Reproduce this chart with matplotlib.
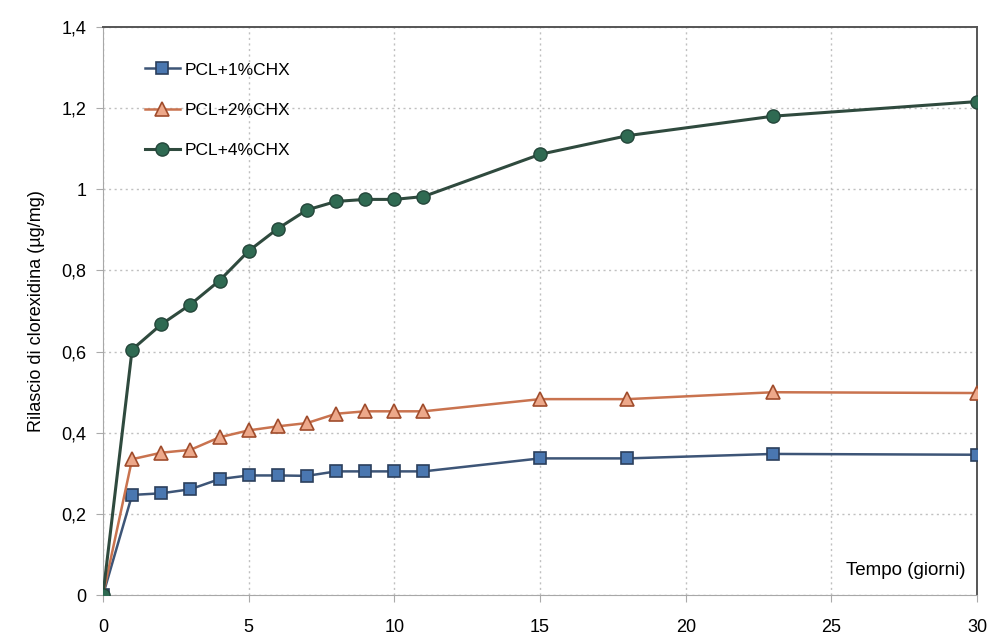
import matplotlib.pyplot as plt
from matplotlib.ticker import FuncFormatter

giorni = [0, 1, 2, 3, 4, 5, 6, 7, 8, 9, 10, 11, 15, 18, 23, 30]
chx_1 = [0, 0.247, 0.251, 0.261, 0.286, 0.295, 0.295, 0.294, 0.305, 0.305,
         0.305, 0.305, 0.337, 0.337, 0.348, 0.346]
chx_2 = [0, 0.335, 0.351, 0.358, 0.389, 0.406, 0.416, 0.424, 0.447, 0.453,
         0.453, 0.453, 0.483, 0.483, 0.500, 0.498]
chx_4 = [0, 0.605, 0.667, 0.716, 0.775, 0.848, 0.903, 0.949, 0.970, 0.975,
         0.975, 0.982, 1.086, 1.132, 1.180, 1.216]
etichette = ['PCL+1%CHX', 'PCL+2%CHX', 'PCL+4%CHX']

plt.rcParams['font.family'] = ['Liberation Sans', 'DejaVu Sans']

fig = plt.figure(figsize=(9.9, 6.4), dpi=100)
ax = fig.add_axes([0.104, 0.070, 0.883, 0.888])

ax.plot(giorni, chx_1, color='#3d5577', lw=1.8, marker='s', ms=9,
        mfc='#4a77b0', mec='#2b3f5c', mew=1.2, label=etichette[0], zorder=3)
ax.plot(giorni, chx_2, color='#c9734f', lw=1.8, marker='^', ms=10,
        mfc='#eda88a', mec='#a04c2c', mew=1.2, label=etichette[1], zorder=3)
ax.plot(giorni, chx_4, color='#2f4a3e', lw=2.2, marker='o', ms=9.5,
        mfc='#2f6a52', mec='#24463a', mew=1.0, label=etichette[2], zorder=4)

ax.set_xlim(0, 30)
ax.set_ylim(0, 1.4)
ax.set_xticks(range(0, 31, 5))
ax.set_yticks([0, 0.2, 0.4, 0.6, 0.8, 1.0, 1.2, 1.4])
ax.yaxis.set_major_formatter(FuncFormatter(lambda v, p: f'{v:g}'.replace('.', ',')))
ax.tick_params(labelsize=13, length=5, color='#aaaaaa')
ax.tick_params(axis='x', pad=12)
ax.tick_params(axis='y', pad=7)
ax.grid(True, ls=(0, (1.5, 2.5)), color='#c0c0c0', lw=1.0)

for lato in ['left', 'bottom']:
    ax.spines[lato].set_color('#a8a8a8')
for lato in ['top', 'right']:
    ax.spines[lato].set_color('#555555')
    ax.spines[lato].set_linewidth(1.4)

ax.set_ylabel('Rilascio di clorexidina (µg/mg)', fontsize=13, labelpad=12)
ax.text(29.6, 0.04, 'Tempo (giorni)', ha='right', va='bottom', fontsize=13.5)

ax.legend(loc='upper left', bbox_to_anchor=(0.03, 0.965), frameon=False,
          fontsize=12.5, handlelength=2.0, labelspacing=1.45, handletextpad=0.3)

fig.savefig('out.png', dpi=100)
